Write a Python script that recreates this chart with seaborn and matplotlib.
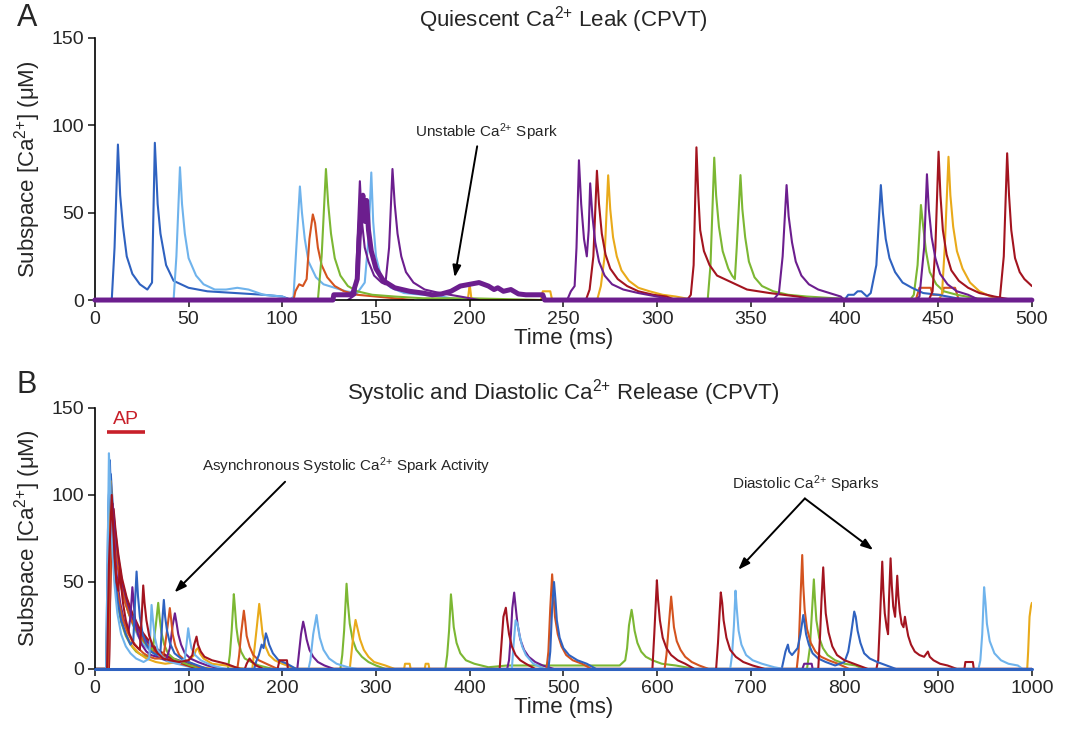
import matplotlib
matplotlib.use("Agg")
import matplotlib.pyplot as plt
import pandas as pd
import seaborn as sns

sns.set_style("ticks")
plt.rcParams['font.family'] = ['Liberation Sans', 'DejaVu Sans']
plt.rcParams['mathtext.default'] = 'regular'

# ---------------- colours ----------------
C_BLUE = '#2f62c0'
C_LBLUE = '#6fb3ec'
C_ORANGE = '#d4531f'
C_GREEN = '#7cb733'
C_PURPLE = '#6c1e8e'
C_DRED = '#a3141f'
C_GOLD = '#e9aa1a'

# ---------------- Panel A traces (time ms, [Ca2+] uM) ----------------
A_blue1 = [(0, 0), (9, 0), (10.5, 30), (12.3, 89), (13.5, 60), (15, 42), (17, 25), (20, 15), (24, 9), (28, 6),
           (30.5, 10), (32, 90), (33.5, 55), (35, 38), (38, 20), (42, 11), (50, 7), (60, 5), (75, 4), (90, 3),
           (100, 2), (105, 0)]
A_lblue1 = [(0, 0), (42, 0), (43.5, 25), (45.4, 76), (46.5, 55), (48, 38), (50, 24), (54, 14), (58, 9), (64, 6),
            (70, 6), (76, 7), (82, 6), (90, 3), (100, 2), (104, 0), (106, 2), (107.5, 30), (109.4, 65), (110.5, 50),
            (112, 35), (114, 22), (118, 13), (122, 9), (128, 7), (134, 5), (140, 4), (144, 10), (146, 35),
            (147.5, 73), (148.5, 45), (150, 25), (153, 12), (158, 7), (165, 4), (175, 3), (185, 2), (195, 0)]
A_orange1 = [(0, 0), (106, 0), (107, 5), (109, 9), (111, 8), (113, 12), (114.5, 35), (116.3, 49), (117.5, 44),
             (119, 30), (121, 20), (124, 13), (128, 8), (133, 5), (140, 3), (150, 2), (160, 1), (170, 0)]
A_orange2 = [(438, 0), (440, 7), (446, 7), (447, 3), (452, 3), (453, 7), (459, 7), (461, 0)]
A_green1 = [(0, 0), (119, 0), (121, 25), (123.3, 75), (124.5, 55), (126, 38), (128, 24), (131, 14), (135, 8),
            (140, 5), (148, 3), (160, 2), (175, 1), (200, 1), (240, 0)]
A_green2 = [(325, 0), (327, 0), (328.5, 20), (330.5, 81.5), (331.5, 60), (333, 42), (335, 28), (338, 18),
            (340, 14), (341.5, 12), (342.5, 30), (344.5, 71.5), (345.5, 52), (347, 36), (349, 22), (352, 13),
            (356, 8), (362, 5), (370, 3), (380, 2), (395, 1), (410, 0)]
A_green3 = [(435, 0), (437, 3), (439, 20), (440.8, 54.4), (442, 42), (443.5, 28), (445.5, 16), (449, 9),
            (453, 5), (460, 3), (470, 1), (480, 0)]
A_purple1 = [(135, 0), (139, 3), (140, 30), (141.4, 68), (142.5, 45), (144, 30), (146, 22), (149, 14), (153, 10),
             (155, 9), (157, 30), (158.8, 75), (160, 55), (161.5, 38), (163.5, 25), (166, 16), (170, 10),
             (176, 6), (184, 4), (195, 2), (205, 0)]
A_purple2 = [(252, 0), (254, 5), (256, 8), (257, 30), (258.3, 80), (259.5, 55), (261, 35), (262.5, 25),
             (263.5, 40), (264.3, 66.8), (265.5, 48), (267, 33), (269, 22), (272, 14), (276, 9), (282, 6),
             (290, 4), (300, 2), (310, 0)]
A_purple3 = [(362, 0), (365, 4), (367, 25), (369.1, 65.8), (370.2, 48), (372, 33), (374, 22), (377, 14),
             (381, 9), (386, 6), (392, 4), (398, 2), (400, 0)]
A_purple4 = [(438, 0), (440, 2), (442.5, 30), (444, 72), (445, 52), (446.5, 36), (448.5, 24), (451, 15),
             (455, 9), (460, 5), (466, 3), (472, 0)]
A_dred1 = [(262, 0), (264, 6), (266, 25), (267.9, 74), (269, 55), (270.5, 38), (272.5, 26), (275, 18), (279, 12),
           (284, 8), (290, 5), (298, 3), (305, 2), (310, 0)]
A_dred2 = [(316, 0), (318, 3), (319.5, 20), (321, 87.4), (322, 60), (323, 40), (325, 28), (328, 20), (332, 14),
           (340, 10), (348, 6), (360, 4), (375, 2), (385, 0)]
A_dred3 = [(445, 0), (447, 5), (448.5, 30), (450.2, 84.9), (451.2, 60), (452.5, 40), (454.5, 26), (457, 17),
           (461, 11), (466, 7), (472, 4), (480, 2), (490, 0)]
A_dred4 = [(481, 0), (483, 2), (485, 25), (486.8, 84), (487.8, 60), (489, 40), (491, 24), (493.5, 16),
           (496, 12), (498, 10), (500, 8)]
A_gold1 = [(199, 0), (200, 9), (201, 0), (238, 0), (239, 5), (243, 5), (244, 0), (268, 0), (270, 8), (272, 25),
           (273.9, 71.4), (275, 52), (276.5, 36), (278.5, 25), (281, 17), (285, 11), (290, 7), (296, 5), (303, 3),
           (310, 2), (320, 0)]
A_gold2 = [(450, 0), (452, 3), (453.5, 30), (455.5, 82), (456.5, 60), (458, 42), (460, 28), (463, 18), (467, 10),
           (472, 5), (478, 2), (485, 0)]
A_blue2 = [(400, 0), (402, 3), (405, 3), (407, 5), (409, 5), (412, 2), (414, 4), (417, 20), (419.4, 65.8),
           (420.5, 50), (422, 35), (424, 24), (427, 16), (431, 10), (436, 7), (442, 4), (450, 3), (460, 1), (470, 0)]
# thick trace containing the unstable spark
A_thick = [(0, 0), (127, 0), (127.5, 3), (137, 3), (138, 5), (140, 12), (141, 35), (142, 50), (143, 60), (144, 45),
           (145, 57), (146, 40), (147.5, 28), (150, 18), (154, 11), (160, 7), (168, 5), (175, 4), (180, 3),
           (185, 3.5), (190, 5), (195, 8), (200, 9), (205, 10), (210, 8), (213, 6), (215, 7), (218, 5), (222, 6),
           (226, 3.5), (230, 3), (235, 3), (239, 3), (240, 0), (500, 0)]

# ---------------- Panel B traces ----------------
B_lblue1 = [(0, 0), (12, 0), (13.5, 60), (15, 124), (16, 110), (17.5, 85), (19, 65), (21, 48), (24, 32), (28, 20),
            (33, 13), (38, 9), (44, 6), (52, 4), (58, 6), (59.5, 25), (60.5, 36.8), (62, 28), (64, 18), (67, 11),
            (72, 7), (80, 4), (90, 3), (96, 6), (98, 15), (99.6, 23.4), (101, 18), (103, 12), (107, 8), (113, 5),
            (125, 2), (140, 0), (228, 0), (230, 5), (233, 20), (236.6, 31), (238, 25), (240, 18), (244, 11),
            (250, 6), (258, 3), (270, 1), (280, 0), (445, 0), (447, 15), (449, 28), (451, 26), (453, 20), (456, 13),
            (460, 8), (468, 3), (480, 0), (678, 0), (680, 8), (682, 25), (683.7, 45), (685, 35), (687, 22), (690, 14),
            (695, 8), (702, 5), (712, 3), (725, 1), (735, 0), (943, 0), (945, 5), (947, 20), (949, 47), (950.5, 38),
            (952, 26), (955, 16), (960, 9), (967, 5), (975, 3), (985, 2), (990, 0), (1000, 0)]
B_lblue2 = [(0, 0), (13, 0), (14.5, 90), (16, 115), (17.5, 100), (19, 88), (22, 72), (26, 56), (30, 44), (35, 34),
            (40, 26), (46, 19), (52, 14), (60, 10), (70, 6), (80, 4), (95, 2), (110, 0)]
B_blue1 = [(0, 0), (12, 0), (14, 80), (16, 120), (17, 100), (19, 75), (21, 55), (24, 40), (28, 28), (33, 20),
           (38, 14), (41, 16), (43, 40), (44.5, 56), (46, 42), (48, 30), (51, 20), (55, 14), (60, 10), (66, 8),
           (70, 10), (72, 28), (73.6, 39.7), (75, 30), (77, 22), (80, 15), (85, 9), (92, 6), (100, 4), (110, 2),
           (120, 0), (170, 0), (172, 4), (175, 8), (178, 14), (180, 12), (182.5, 20.5), (184, 18), (186, 14),
           (190, 9), (196, 5), (205, 3), (215, 0), (484, 0), (486, 10), (488, 35), (490, 50), (491.5, 40), (493, 28),
           (496, 18), (500, 12), (506, 8), (515, 5), (525, 3), (535, 0), (733, 0), (735, 5), (737, 10),
           (739.6, 14), (741, 10), (744, 8), (750, 12), (753, 20), (756, 31), (757.5, 26), (759, 20), (762, 14),
           (766, 9), (772, 6), (780, 4), (790, 2), (800, 4), (804, 10), (807, 20), (810.4, 33), (812, 30), (814, 22),
           (817, 15), (821, 9), (827, 6), (835, 4), (845, 2), (855, 0), (1000, 0)]
B_blue2 = [(0, 0), (13, 0), (15, 100), (17, 112), (19, 95), (22, 78), (25, 64), (29, 50), (34, 40), (40, 31),
           (46, 24), (53, 18), (62, 12), (72, 8), (85, 5), (100, 3), (120, 0)]
B_gold1 = [(0, 0), (13, 0), (15, 60), (17, 108), (18, 95), (19.5, 75), (21, 58), (23, 45), (26, 34), (30, 25),
           (35, 18), (40, 13), (47, 9), (55, 6), (65, 4), (75, 3), (90, 4), (100, 5), (106, 8), (108, 11), (110, 12),
           (112, 9), (116, 6), (125, 3), (140, 2), (160, 0), (168, 0), (170, 10), (173, 25), (175.4, 37.4),
           (177, 30), (179, 20), (182, 13), (186, 8), (192, 5), (200, 3), (215, 0), (272, 0), (274, 10), (276, 20),
           (278.2, 28.2), (280, 24), (283, 17), (287, 11), (292, 7), (298, 4), (310, 2), (320, 0), (330, 0),
           (331, 3), (336, 3), (337, 0), (352, 0), (353, 3), (356, 3), (357, 0), (995, 0), (996, 10), (997.5, 30),
           (999, 36), (1000, 38)]
B_gold2 = [(0, 0), (14, 0), (16, 80), (18, 98), (20, 85), (23, 70), (27, 55), (31, 44), (36, 34), (42, 26),
           (49, 19), (57, 14), (66, 10), (76, 7), (90, 4), (105, 2), (125, 0)]
B_green1 = [(0, 0), (12, 0), (14, 50), (16, 100), (17.5, 90), (19, 70), (21, 52), (24, 38), (28, 27), (33, 19),
            (38, 14), (44, 10), (50, 8), (56, 7), (62, 12), (65, 25), (67.6, 38), (69, 30), (71, 21), (74, 14),
            (78, 9), (84, 6), (92, 4), (102, 2), (115, 0), (142, 0), (144, 8), (146, 22), (148.3, 43), (149.5, 35),
            (151, 24), (153, 16), (156, 10), (160, 6), (167, 4), (175, 2), (190, 0), (262, 0), (264, 8), (266, 22),
            (268.6, 49), (270, 38), (272, 26), (275, 17), (279, 11), (285, 7), (292, 4), (300, 2), (310, 0),
            (374, 0), (376, 8), (378, 22), (380, 42.9), (381.5, 34), (383, 24), (386, 15), (390, 9), (396, 5),
            (405, 3), (420, 1), (440, 2), (560, 2), (566, 5), (568, 12), (570, 25), (572.8, 34), (574, 30), (576, 22),
            (579, 15), (583, 10), (588, 7), (595, 5), (605, 3), (620, 2), (640, 0), (760, 0), (763, 12), (765, 30),
            (767.3, 51.5), (768.5, 40), (770, 28), (773, 18), (777, 12), (782, 8), (790, 5), (800, 3), (812, 2),
            (820, 0)]
B_green2 = [(0, 0), (14, 0), (16, 85), (18, 95), (20, 82), (23, 66), (27, 52), (31, 41), (36, 32), (42, 24),
            (50, 17), (60, 11), (72, 7), (88, 4), (105, 2), (120, 0)]
B_purple1 = [(0, 0), (14, 0), (16, 60), (19, 95), (20.5, 80), (22, 62), (24, 50), (27, 38), (31, 28), (36, 22),
             (38, 30), (40, 47), (41.5, 38), (43, 28), (46, 20), (50, 14), (55, 10), (60, 8), (66, 7), (71, 6),
             (76, 5), (80, 12), (83, 25), (85.4, 32), (87, 27), (89, 20), (92, 14), (96, 9), (102, 6), (110, 4),
             (120, 2), (135, 0), (216, 0), (218, 10), (220, 20), (222.3, 27.2), (224, 23), (226, 17), (229, 11),
             (233, 7), (238, 4), (245, 2), (255, 0), (440, 0), (442, 5), (444, 20), (445.5, 35), (447.5, 43.9),
             (449, 36), (451, 26), (454, 17), (458, 11), (463, 7), (470, 4), (478, 2), (490, 0), (755, 0), (757, 3),
             (765, 3), (766, 0), (1000, 0)]
B_purple2 = [(0, 0), (15, 0), (17, 70), (20, 88), (22, 76), (25, 62), (29, 49), (34, 38), (40, 29), (47, 22),
             (55, 16), (65, 11), (78, 7), (95, 4), (115, 0)]
B_dred1 = [(0, 0), (13, 0), (15, 60), (18, 100), (19.5, 82), (21, 64), (23, 50), (25, 45), (26.7, 58.8), (28, 48),
           (30, 38), (33, 28), (37, 20), (42, 14), (48, 11), (50, 30), (51.6, 48), (53, 38), (55, 28), (58, 19),
           (62, 13), (67, 9), (73, 6), (80, 5), (90, 4), (100, 5), (104, 8), (106, 14), (108.5, 18.6), (110, 14),
           (113, 10), (117, 7), (125, 5), (140, 3), (155, 0), (160, 0), (162, 3), (165, 6), (168, 4), (172, 2),
           (180, 0), (195, 0), (197, 5), (205, 5), (206, 0), (432, 0), (434, 15), (436, 30), (438.6, 35.2),
           (440, 28), (442, 20), (445, 13), (449, 8), (454, 5), (460, 3), (470, 0), (595, 0), (597, 20),
           (599.8, 51), (601, 40), (603, 28), (606, 18), (610, 12), (615, 8), (622, 5), (630, 3), (640, 0), (663, 0),
           (665, 15), (666.5, 30), (668, 44), (669.5, 38), (671, 28), (674, 18), (678, 11), (684, 7), (692, 4),
           (702, 2), (715, 0), (772, 0), (774, 20), (775.5, 40), (777.3, 58.4), (778.5, 45), (780, 32), (783, 21),
           (787, 13), (792, 8), (800, 5), (810, 3), (825, 0), (1000, 0)]
B_dred2 = [(0, 0), (15, 0), (17, 70), (20, 92), (22, 80), (25, 66), (29, 52), (34, 41), (40, 32), (47, 24),
           (55, 18), (65, 12), (78, 7), (95, 3), (110, 0), (834, 0), (836, 5), (838, 30), (840.3, 61.7), (841.5, 45),
           (843, 32), (845, 24), (846.5, 20), (847.5, 40), (849.2, 63.6), (850.5, 48), (852, 36), (854, 30),
           (855, 40), (856.3, 53.6), (857.5, 42), (859, 33), (861, 26), (863, 24), (864.5, 30), (866, 25), (868, 19),
           (871, 14), (875, 10), (880, 8), (885, 7), (889, 10), (891, 7), (895, 5), (902, 3), (910, 2), (920, 0),
           (928, 0), (929, 4), (937, 4), (938, 0), (1000, 0)]
B_orange1 = [(0, 0), (14, 0), (16, 50), (18, 90), (19.5, 78), (21, 62), (23, 50), (26, 38), (30, 28), (35, 21),
             (40, 16), (46, 12), (52, 9), (58, 7), (64, 6), (70, 6), (74, 10), (77, 22), (80, 35), (81.5, 28),
             (83, 20), (86, 13), (90, 8), (96, 5), (104, 3), (115, 0), (152, 0), (154, 8), (156, 20), (159, 33.5),
             (160.5, 27), (162, 19), (165, 13), (169, 8), (175, 5), (183, 3), (195, 0), (482, 0), (484, 10),
             (486, 35), (488, 54.4), (489.5, 42), (491, 30), (494, 20), (498, 13), (503, 8), (510, 5), (520, 3),
             (530, 0), (608, 0), (610, 8), (612.5, 25), (615, 41.6), (616.5, 33), (618, 24), (621, 16), (625, 11),
             (630, 7), (637, 4), (645, 2), (655, 0), (749, 0), (751, 10), (753, 40), (754.9, 65.5), (756, 48),
             (757.5, 34), (760, 23), (764, 15), (769, 10), (775, 7), (783, 5), (793, 3), (805, 0), (1000, 0)]
B_orange2 = [(0, 0), (15, 0), (17, 60), (19, 85), (21, 74), (24, 60), (28, 47), (33, 37), (39, 28), (46, 21),
             (54, 15), (64, 10), (77, 6), (92, 3), (110, 0)]
B_baseline = [(0, 0), (1000, 0)]

# AP bar and ticks
AP_bar = [(12.8, 136), (53.4, 136)]
A_xticks = [0, 50, 100, 150, 200, 250, 300, 350, 400, 450, 500]
B_xticks = [0, 100, 200, 300, 400, 500, 600, 700, 800, 900, 1000]
Y_ticks = [0, 50, 100, 150]


def draw(ax, pts, color, lw, clip=True, z=2):
    df = pd.DataFrame(pts, columns=['t', 'v'])
    sns.lineplot(data=df, x='t', y='v', ax=ax, color=color, lw=lw, sort=False,
                 estimator=None, legend=False, clip_on=clip, zorder=z)


fig = plt.figure(figsize=(10.66, 7.30), dpi=100)
axA = fig.add_axes([0.089, 0.589, 0.879, 0.359])
axB = fig.add_axes([0.089, 0.0836, 0.879, 0.3575])

LW = 1.5
A_list = [(A_blue1, C_BLUE), (A_lblue1, C_LBLUE), (A_orange1, C_ORANGE), (A_orange2, C_ORANGE),
          (A_green1, C_GREEN), (A_green2, C_GREEN), (A_green3, C_GREEN), (A_gold1, C_GOLD), (A_gold2, C_GOLD),
          (A_blue2, C_BLUE), (A_dred1, C_DRED), (A_dred2, C_DRED), (A_dred3, C_DRED), (A_dred4, C_DRED),
          (A_purple1, C_PURPLE), (A_purple2, C_PURPLE), (A_purple3, C_PURPLE), (A_purple4, C_PURPLE)]
for pts, c in A_list:
    draw(axA, pts, c, LW)
draw(axA, A_thick, C_PURPLE, 3.6, clip=False, z=3)

B_list = [(B_lblue2, C_LBLUE), (B_blue2, C_BLUE), (B_gold2, C_GOLD), (B_green2, C_GREEN),
          (B_purple2, C_PURPLE), (B_orange2, C_ORANGE), (B_dred2, C_DRED),
          (B_green1, C_GREEN), (B_gold1, C_GOLD), (B_purple1, C_PURPLE), (B_orange1, C_ORANGE),
          (B_blue1, C_BLUE), (B_lblue1, C_LBLUE), (B_dred1, C_DRED)]
for pts, c in B_list:
    draw(axB, pts, c, LW)
draw(axB, B_baseline, C_BLUE, 2.2, clip=False, z=3)

# AP marker
axB.plot([p[0] for p in AP_bar], [p[1] for p in AP_bar], color='#c8202a', lw=2.6, solid_capstyle='butt')
axB.text(33, 143.5, 'AP', color='#c8202a', fontsize=14, ha='center', va='center')

ylabel = 'Subspace [Ca$^{2{+}}$] (μM)'
for ax, xt, xmax in [(axA, A_xticks, 500), (axB, B_xticks, 1000)]:
    ax.set_xlim(0, xmax)
    ax.set_ylim(0, 150)
    ax.set_xticks(xt)
    ax.set_yticks(Y_ticks)
    ax.tick_params(axis='both', labelsize=14, length=5, width=1.2, direction='out', pad=3)
    ax.set_xlabel('Time (ms)', fontsize=16, labelpad=0)
    ax.set_ylabel(ylabel, fontsize=16, labelpad=6)
    for s in ['top', 'right']:
        ax.spines[s].set_visible(False)
    for s in ['left', 'bottom']:
        ax.spines[s].set_linewidth(1.2)
        ax.spines[s].set_color('black')

axA.set_title('Quiescent Ca$^{2{+}}$ Leak (CPVT)', fontsize=16, pad=8)
axB.set_title('Systolic and Diastolic Ca$^{2{+}}$ Release (CPVT)', fontsize=16, pad=5)

fig.text(0.025, 0.975, 'A', fontsize=22, va='center', ha='center')
fig.text(0.025, 0.472, 'B', fontsize=22, va='center', ha='center')

arrow = dict(arrowstyle='-|>,head_length=0.7,head_width=0.25', color='black', lw=1.4, shrinkA=0, shrinkB=0)
axA.annotate('', xy=(192, 13), xytext=(204, 88), arrowprops=arrow)
axA.text(209, 96, 'Unstable Ca$^{2{+}}$ Spark', fontsize=11, ha='center', va='center')

axB.annotate('', xy=(85, 44), xytext=(203, 107.6), arrowprops=arrow)
axB.text(268, 116.7, 'Asynchronous Systolic Ca$^{2{+}}$ Spark Activity', fontsize=11, ha='center', va='center')

axB.annotate('', xy=(686.6, 57), xytext=(757.7, 98), arrowprops=arrow)
axB.annotate('', xy=(830.6, 68.4), xytext=(757.7, 98), arrowprops=arrow)
axB.text(758.8, 106, 'Diastolic Ca$^{2{+}}$ Sparks', fontsize=11, ha='center', va='center')

fig.savefig('out.png', dpi=100)
